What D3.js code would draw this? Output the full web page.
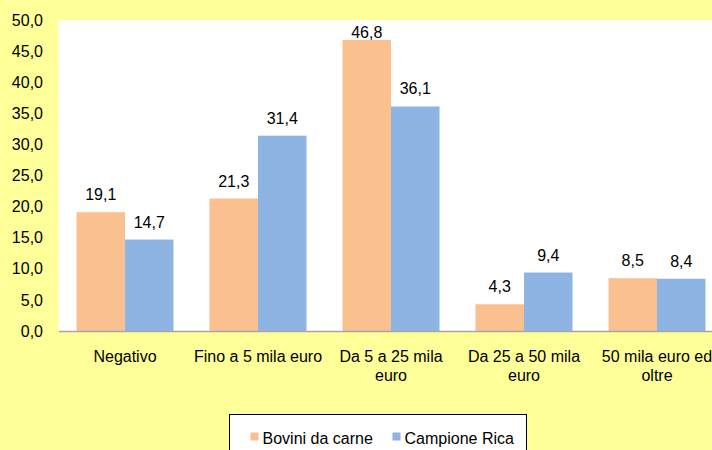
<!DOCTYPE html>
<html>
<head>
<meta charset="utf-8">
<script src="https://cdn.jsdelivr.net/npm/d3@7"></script>
<style>
  html, body { margin: 0; padding: 0; background: #FFFF99; }
  svg { display: block; }
  text { font-family: "Liberation Sans", Arial, sans-serif; fill: #000; }
</style>
</head>
<body>
<svg id="chart" width="712" height="450"></svg>
<script>
// Categories (income classes) and the two series, in percent
const categories = ["Negativo", "Fino a 5 mila euro", "Da 5 a 25 mila euro", "Da 25 a 50 mila euro", "50 mila euro ed oltre"];
const seriesNames = ["Bovini da carne", "Campione Rica"];
const boviniDaCarne = [19.1, 21.3, 46.8, 4.3, 8.5];
const campioneRica = [14.7, 31.4, 36.1, 9.4, 8.4];
const yTicks = [0, 5, 10, 15, 20, 25, 30, 35, 40, 45, 50];
const colors = ["#FAC090", "#8EB4E3"];

const seriesValues = [boviniDaCarne, campioneRica];
const data = categories.map((c, i) => ({
  category: c,
  values: seriesNames.map((s, j) => ({ series: s, value: seriesValues[j][i], color: colors[j] }))
}));

const svg = d3.select("#chart");
const plot = { left: 58.5, top: 20, right: 723.5, bottom: 331 };
const fmt = v => d3.format(".1f")(v).replace(".", ",");
const fontSize = 16;

// Plot area
svg.append("rect")
  .attr("x", plot.left).attr("y", plot.top)
  .attr("width", plot.right - plot.left).attr("height", plot.bottom - plot.top)
  .attr("fill", "#fff");

const x0 = d3.scaleBand().domain(categories).range([plot.left, plot.right]).padding(0);
const x1 = d3.scaleBand().domain(seriesNames).range([0, x0.bandwidth()]).paddingInner(0).paddingOuter(0.371);
const y = d3.scaleLinear().domain([0, 50]).range([plot.bottom, plot.top]);

// Bars
const groups = svg.append("g").selectAll("g").data(data).join("g")
  .attr("transform", d => `translate(${x0(d.category)},0)`);

groups.selectAll("rect").data(d => d.values).join("rect")
  .attr("x", d => x1(d.series))
  .attr("y", d => y(d.value))
  .attr("width", x1.bandwidth())
  .attr("height", d => y(0) - y(d.value))
  .attr("fill", d => d.color);

// Value labels, kept inside the plot area
groups.selectAll("text.val").data(d => d.values).join("text")
  .attr("class", "val")
  .attr("x", d => x1(d.series) + x1.bandwidth() / 2)
  .attr("y", d => Math.max(y(d.value) - 12, plot.top + 18))
  .attr("text-anchor", "middle")
  .style("font-size", fontSize + "px")
  .text(d => fmt(d.value));

// Y axis (labels only)
const yAxis = d3.axisLeft(y).tickValues(yTicks).tickFormat(fmt).tickSize(0).tickPadding(15.5);
const gy = svg.append("g").attr("transform", `translate(${plot.left},0)`).call(yAxis);
gy.select(".domain").remove();
gy.selectAll("text").style("font-size", fontSize + "px").style("font-family", '"Liberation Sans", Arial, sans-serif').attr("fill", "#000");

// X axis with wrapped category labels
const xAxis = d3.axisBottom(x0).tickSize(0).tickPadding(0);
const gx = svg.append("g").attr("transform", `translate(0,${plot.bottom})`).call(xAxis);
gx.select(".domain").attr("stroke", "#A6A6A6").attr("stroke-width", 1.5);
gx.selectAll("text")
  .style("font-size", fontSize + "px")
  .style("font-family", '"Liberation Sans", Arial, sans-serif')
  .attr("fill", "#000")
  .attr("dy", null)
  .attr("y", 31)
  .each(function() { wrap(d3.select(this), x0.bandwidth() - 2); });

function wrap(textSel, width) {
  const words = textSel.text().split(/\s+/);
  textSel.text(null);
  let line = [];
  let tspan = textSel.append("tspan").attr("x", 0);
  words.forEach(w => {
    line.push(w);
    tspan.text(line.join(" "));
    if (tspan.node().getComputedTextLength() > width && line.length > 1) {
      line.pop();
      tspan.text(line.join(" "));
      line = [w];
      tspan = textSel.append("tspan").attr("x", 0).attr("dy", "1.2em").text(w);
    }
  });
}

// Legend
const legend = svg.append("g").attr("transform", "translate(229.5,414.5)");
legend.append("rect").attr("width", 297).attr("height", 50)
  .attr("fill", "#fff").attr("stroke", "#000").attr("stroke-width", 1);
const legendX = [21, 163];
seriesNames.forEach((s, i) => {
  const g = legend.append("g").attr("transform", `translate(${legendX[i]},0)`);
  g.append("rect").attr("x", 0).attr("y", 18).attr("width", 8).attr("height", 8).attr("fill", colors[i]);
  g.append("text").attr("x", 12).attr("y", 29).style("font-size", fontSize + "px").text(s);
});
</script>
</body>
</html>
